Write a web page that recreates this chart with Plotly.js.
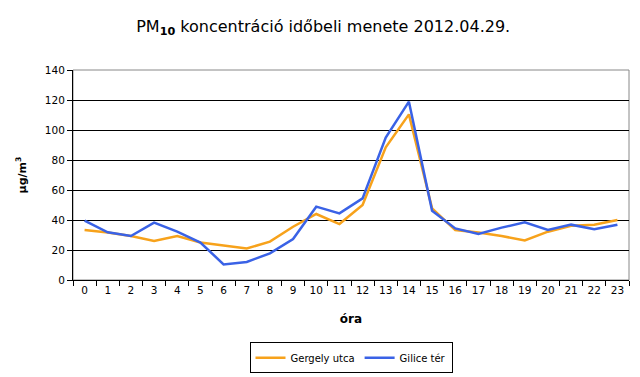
<!DOCTYPE html>
<html><head><meta charset="utf-8">
<script src="https://cdn.plot.ly/plotly-3.0.1.min.js"></script>
<style>html,body{margin:0;padding:0;background:#fff}#c{width:640px;height:377px}</style>
</head><body><div id="c"></div>
<script>
const hours = ["0","1","2","3","4","5","6","7","8","9","10","11","12","13","14","15","16","17","18","19","20","21","22","23"];
const gergely = [33.3,31.6,29.3,26,29.3,25,23,21,25.6,35.5,44,37.3,50,88.4,110.4,47.8,33.3,31.6,29.3,26.4,32.2,36.2,36.9,40];
const gilice = [39.6,31.8,29.3,38.2,32.2,25,10.4,12,17.8,27.3,48.9,44.4,54.4,95,118.9,46.2,34.4,30.7,34.9,38.4,33.3,36.9,33.8,36.9];
const yTicks = [0,20,40,60,80,100,120,140];
const font = "Tahoma, 'DejaVu Sans', 'Liberation Sans', sans-serif";
const data = [
  {x: hours, y: gergely, type:'scatter', mode:'lines', name:'Gergely utca', line:{color:'#F7A21B', width:2.5}},
  {x: hours, y: gilice, type:'scatter', mode:'lines', name:'Gilice tér', line:{color:'#3A62E6', width:2.5}}
];
const layout = {
  width:640, height:377,
  margin:{l:73, r:11, t:70, b:97},
  paper_bgcolor:'#fff', plot_bgcolor:'#fff',
  font:{family:font, size:11, color:'#000'},
  title:{text:"PM<sub><b>10</b></sub> koncentráció időbeli menete 2012.04.29.", x:0.505, xanchor:'center', y:0.93, yanchor:'middle', font:{family:font, size:16, color:'#000'}},
  xaxis:{type:'category', range:[-0.5,23.5], autorange:false, automargin:false, tickson:'boundaries', ticks:'outside', ticklen:5, tickcolor:'#000', showline:true, linecolor:'#000', linewidth:1, showgrid:false, zeroline:false,
    title:{text:'<b>óra</b>', font:{size:12}, standoff:20}, tickfont:{size:10.5}},
  yaxis:{range:[0,140], autorange:false, automargin:false, tickvals:yTicks, ticks:'outside', ticklen:5, tickcolor:'#000', showline:true, linecolor:'#000', linewidth:1, showgrid:true, gridcolor:'#000', gridwidth:1, zeroline:false,
    title:{text:'<b>μg/m<sup>3</sup></b>', font:{size:11}, standoff:16}, tickfont:{size:10.5}},
  shapes:[{type:'rect', xref:'paper', yref:'paper', x0:0, x1:1, y0:0, y1:1, line:{color:'#888', width:1}, layer:'below'}],
  showlegend:true,
  legend:{orientation:'h', x:0.5, xanchor:'center', yref:'container', y:0.092, yanchor:'top', bordercolor:'#000', borderwidth:1, font:{size:10}, itemwidth:30, tracegroupgap:0}
};
Plotly.newPlot('c', data, layout, {displayModeBar:false, staticPlot:true});
</script></body></html>
